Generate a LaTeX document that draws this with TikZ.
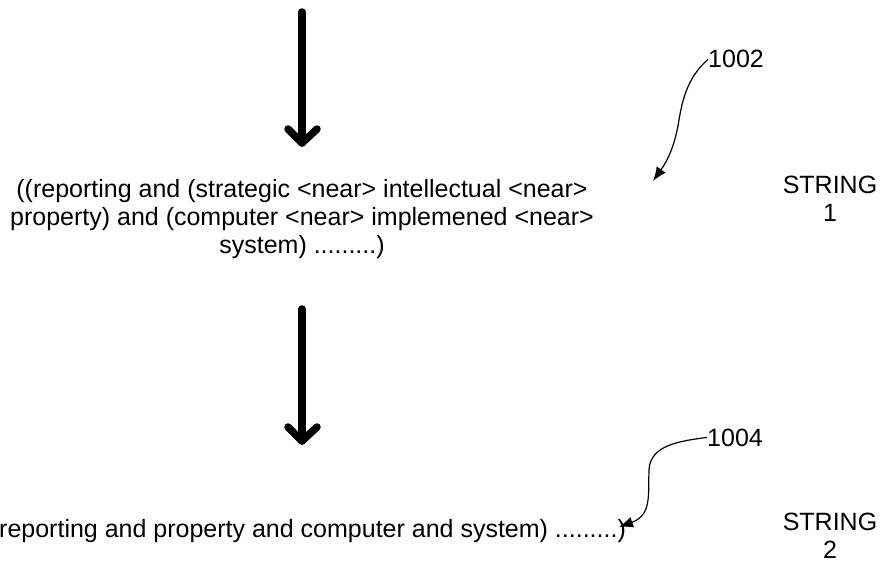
\documentclass[tikz,border=0pt]{standalone}
\usepackage{fontspec}
\setmainfont{Liberation Sans}
\usetikzlibrary{arrows.meta}
\begin{document}
\begin{tikzpicture}[x=1pt,y=-1pt,
  bigarrow/.style={line width=7.5pt,line cap=round,line join=round},
  txt/.style={font=\fontsize{25}{28}\selectfont,align=center,inner sep=0pt},
  lead/.style={line width=1.2pt,-{Latex[length=14pt,width=11pt]}}]
\useasboundingbox (0,0) rectangle (883,575);
% big arrows
\coordinate (a1s) at (302,12);
\coordinate (a1e) at (302,143);
\draw[bigarrow] (a1s) -- (a1e);
\draw[bigarrow] (288,129) -- (a1e) -- (317,129);
\coordinate (a2s) at (302,309);
\coordinate (a2e) at (302,441);
\draw[bigarrow] (a2s) -- (a2e);
\draw[bigarrow] (288,427) -- (a2e) -- (317,427);
% strings
\node[txt,anchor=base] (s1) at (302,253) {((reporting and (strategic <near> intellectual <near>\\property) and (computer <near> implemened <near>\\system) .........)};
\node[txt,anchor=base west] (s2) at (-1,537) {reporting and property and computer and system) .........)};
\node[txt,anchor=base] (l1) at (830,221) {STRING\\1};
\node[txt,anchor=base] (l2) at (830,558) {STRING\\2};
% reference labels
\node[txt,anchor=base west] (r1) at (708,68) {1002};
\node[txt,anchor=base west] (r2) at (707,446) {1004};
\coordinate (t1) at (653,181);
\coordinate (t2) at (619,527);
\draw[lead] (r1.west) .. controls (690,75) and (683,95) .. (679,120) .. controls (675,145) and (668,160) .. (t1);
\draw[lead] (r2.west) .. controls (680,441) and (650,445) .. (649,470) .. controls (648,495) and (652,515) .. (t2);
\end{tikzpicture}
\end{document}
